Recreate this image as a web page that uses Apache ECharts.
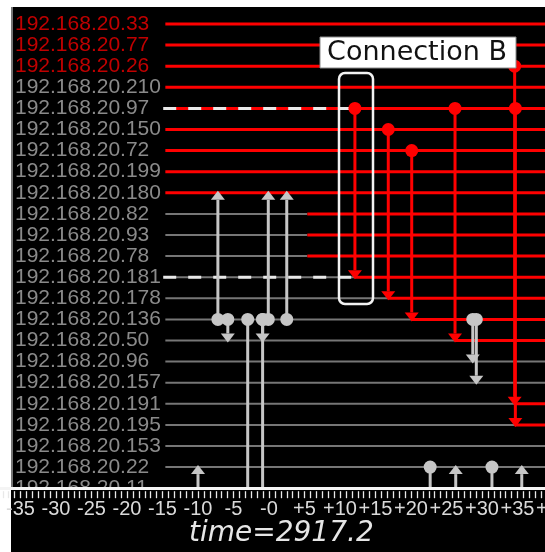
<!DOCTYPE html>
<html><head><meta charset="utf-8">
<script src="https://cdn.jsdelivr.net/npm/echarts@6/dist/echarts.min.js"></script>
<style>html,body{margin:0;padding:0;background:#fff}#c{width:545px;height:552px}</style>
</head><body><div id="c"></div>
<script>
// ---- data ----
const hosts = ['192.168.20.33','192.168.20.77','192.168.20.26','192.168.20.210','192.168.20.97',
  '192.168.20.150','192.168.20.72','192.168.20.199','192.168.20.180','192.168.20.82','192.168.20.93',
  '192.168.20.78','192.168.20.181','192.168.20.178','192.168.20.136','192.168.20.50','192.168.20.96',
  '192.168.20.157','192.168.20.191','192.168.20.195','192.168.20.153','192.168.20.22','192.168.20.11'];
const alertHostCount = 3;               // first hosts listed in red
const timeLabels = ['-40','-35','-30','-25','-20','-15','-10','-5','-0','+5','+10','+15','+20','+25','+30','+35','+40'];
const timeCaption = 'time=2917.2';
const annotation = 'Connection B';
const lineStart = -14.6, lineEnd = 40;
// time from which each host's line turns red (null = stays gray)
const infectedFrom = [-14.6,-14.6,-14.6,-14.6,-14.6,-14.6,-14.6,-14.6,-14.6,5.4,5.4,5.4,
  12.1,16.8,20.1,26.2,null,null,34.6,34.6,null,null,null];
// dashed (selected) host rows: [row, from, to]
const dashedRows = [[4,-14.9,12.1],[12,-14.9,12.1]];
// connections: [sourceRow, destRow, time]
const redLinks = [[4,12,12.1],[5,13,16.8],[6,14,20.1],[4,15,26.2],[2,18,34.6],[4,19,34.7]];
const grayLinks = [[14,8,-7.2],[14,15,-5.8],[14,23,-3.0],[14,15,-0.9],[14,23,-0.9],[14,8,-0.1],
  [14,8,2.5],[14,16,28.7],[14,17,29.2],[23,21,-10.0],[21,23,22.7],[23,21,26.3],[21,23,31.4],[23,21,35.6]];

// ---- build segments ----
const segs = [];
infectedFrom.forEach((f, r) => {
  if (f === null) segs.push([r, lineStart, lineEnd, 0]);
  else if (f <= lineStart) segs.push([r, lineStart, lineEnd, 1]);
  else { segs.push([r, lineStart, f, 0]); segs.push([r, f, lineEnd, 1]); }
});

function renderSeg(params, api) {
  const row = api.value(0), red = api.value(3);
  const a = api.coord([api.value(1), row]), b = api.coord([api.value(2), row]);
  return {type:'line', shape:{x1:a[0],y1:a[1],x2:b[0],y2:b[1]},
    style:{stroke: red ? '#ff0000' : '#767676', lineWidth: red ? 3 : 2}};
}
function renderDash(params, api) {
  const row = api.value(0);
  const a = api.coord([api.value(1), row]), b = api.coord([api.value(2), row]);
  return {type:'line', shape:{x1:a[0],y1:a[1],x2:b[0],y2:b[1]},
    style:{stroke:'#e8e8e8', lineWidth:3, lineDash:[13,12]}};
}
function linkRenderer(color) {
  return function (params, api) {
    const src = api.value(0), dst = api.value(1), t = api.value(2);
    const a = api.coord([t, src]), b = api.coord([t, dst]);
    const dir = b[1] > a[1] ? 1 : -1;
    const tipY = b[1] + dir * 2, baseY = tipY - dir * 9;
    return {type:'group', children:[
      {type:'line', shape:{x1:a[0],y1:a[1],x2:b[0],y2:baseY}, style:{stroke:color, lineWidth:3}},
      {type:'circle', shape:{cx:a[0],cy:a[1],r:6.5}, style:{fill:color}},
      {type:'polygon', shape:{points:[[b[0],tipY],[b[0]-7,baseY],[b[0]+7,baseY]]}, style:{fill:color}}
    ]};
  };
}

const chart = echarts.init(document.getElementById('c'), null, {renderer:'canvas'});
const tickFmt = v => timeLabels[Math.round((v + 40) / 5)] ?? '';
chart.setOption({
  animation:false,
  backgroundColor:'#ffffff',
  title:{text:timeCaption, left:189, top:520, padding:0, z:8,
    textStyle:{color:'#e6e6e6', fontSize:28, fontStyle:'italic', fontWeight:'normal', fontFamily:'DejaVu Sans'}},
  grid:{left:-15, right:-8, top:2.9, bottom:63.8, containLabel:false, outerBoundsMode:'none'},
  xAxis:[
    {type:'value', min:-40, max:40, interval:5, position:'bottom', z:4,
      axisLine:{show:true, onZero:false, lineStyle:{color:'#f4f4f4', width:3}},
      axisTick:{show:false}, axisLabel:{show:false}, splitLine:{show:false}},
    {type:'value', min:-40, max:40, interval:5, position:'bottom', offset:3, z:4,
      axisLine:{show:false, onZero:false},
      axisTick:{show:true, length:7, lineStyle:{color:'#e8e8e8', width:1.3}},
      minorTick:{show:true, splitNumber:6, length:7, lineStyle:{color:'#e8e8e8', width:1.3}},
      axisLabel:{margin:8, color:'#dadada', fontSize:20, fontFamily:'Liberation Sans', formatter:tickFmt},
      splitLine:{show:false}}
  ],
  yAxis:{type:'value', inverse:true, min:-1, max:22, interval:1, z:0,
    axisLine:{show:false, onZero:false}, axisTick:{show:false}, splitLine:{show:false},
    axisLabel:{inside:true, margin:30, align:'left', fontSize:21, fontFamily:'Liberation Sans',
      formatter: v => hosts[v] ?? '',
      color: v => v < alertHostCount ? '#c00000' : '#8a8a8a'}},
  graphic:[
    {type:'rect', shape:{x:11, y:7, width:534, height:545}, style:{fill:'#000'}, z:-10, silent:true},
    {type:'line', shape:{x1:12, y1:7, x2:12, y2:488}, style:{stroke:'#9c9c9c', lineWidth:1.5}, z:1, silent:true},
    {type:'rect', shape:{x:11, y:490, width:534, height:62}, style:{fill:'#000'}, z:3, silent:true},
    {type:'rect', shape:{x:339, y:73, width:34, height:231, r:6}, style:{fill:null, stroke:'#f2f2f2', lineWidth:2.5}, z:10, silent:true},
    {type:'rect', shape:{x:320, y:37, width:196, height:31}, style:{fill:'#fff', stroke:'#8a8a8a', lineWidth:1}, z:10, silent:true},
    {type:'text', x:417, y:53, style:{text:annotation, fill:'#111', font:'27px "DejaVu Sans"', align:'center', verticalAlign:'middle'}, z:11, silent:true}
  ],
  series:[
    {type:'custom', renderItem:renderSeg, data:segs, silent:true, z:2},
    {type:'custom', renderItem:renderDash, data:dashedRows, silent:true, z:2},
    {type:'custom', renderItem:linkRenderer('#c6c6c6'), data:grayLinks, silent:true, z:2},
    {type:'custom', renderItem:linkRenderer('#ff0000'), data:redLinks, silent:true, z:2}
  ]
});
</script></body></html>
